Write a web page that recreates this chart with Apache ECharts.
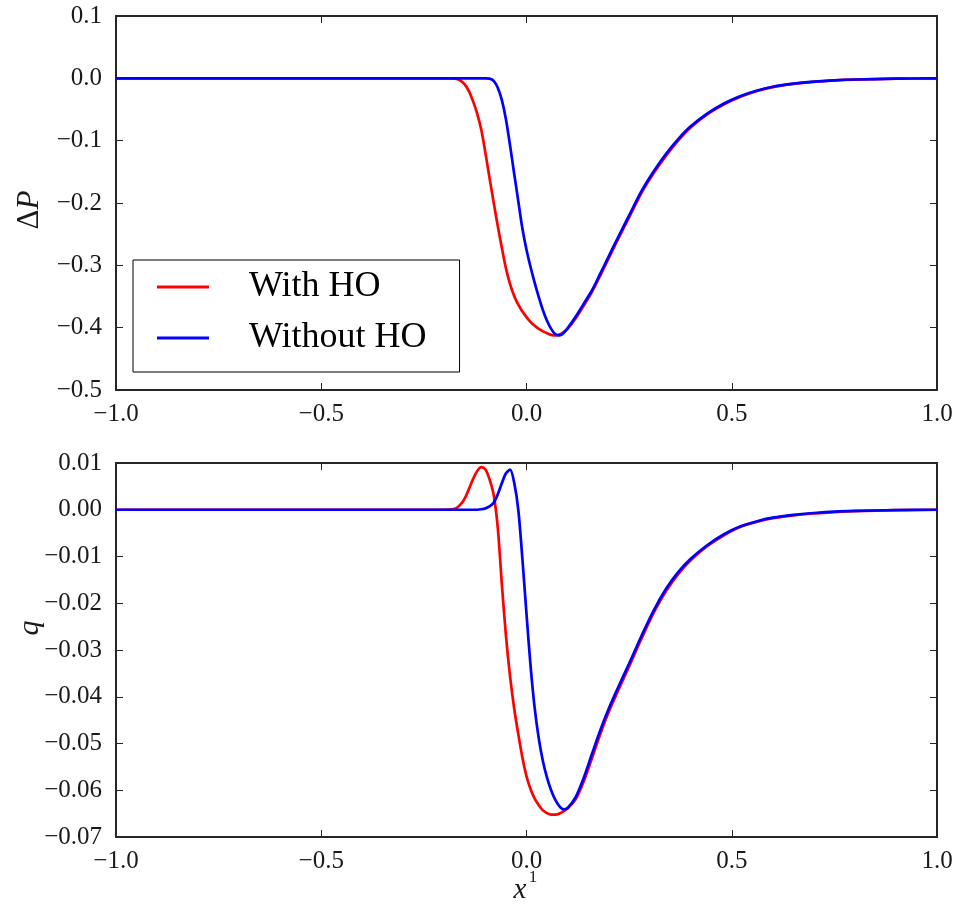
<!DOCTYPE html>
<html>
<head>
<meta charset="utf-8">
<script src="https://cdn.jsdelivr.net/npm/echarts@6/dist/echarts.min.js"></script>
<style>
html,body{margin:0;padding:0;background:#fff;}
#chart{width:957px;height:913px;}
</style>
</head>
<body>
<div id="chart"></div>
<script>
// Shared x positions
const xs = [-1.0, -0.8, -0.6, -0.4, -0.3, -0.25, -0.2,
  -0.18, -0.17, -0.16, -0.15, -0.14, -0.13, -0.12, -0.11, -0.10, -0.09, -0.08, -0.07, -0.06, -0.05, -0.04, -0.03, -0.02, -0.01,
  0.00, 0.01, 0.02, 0.03, 0.04, 0.05, 0.06, 0.07, 0.08, 0.09, 0.10,
  0.12, 0.14, 0.16, 0.18, 0.20, 0.22,
  0.25, 0.28, 0.31, 0.34, 0.37, 0.40,
  0.44, 0.48, 0.52, 0.56, 0.60,
  0.65, 0.70, 0.75, 0.80, 0.90, 1.0];

// Top panel: Delta P
const dpWithHO = [0, 0, 0, 0, 0, 0, 0,
  0, -0.001, -0.004, -0.010, -0.021, -0.037, -0.057, -0.083, -0.120, -0.160, -0.199, -0.237, -0.272, -0.305, -0.330, -0.349, -0.363, -0.374,
  -0.383, -0.391, -0.397, -0.402, -0.406, -0.409, -0.4115, -0.4125, -0.411, -0.407, -0.402,
  -0.385, -0.364, -0.342, -0.316, -0.289, -0.262,
  -0.223, -0.184, -0.152, -0.124, -0.0995, -0.079,
  -0.058, -0.042, -0.030, -0.0207, -0.014,
  -0.009, -0.0056, -0.0034, -0.002, -0.0006, 0];
const dpWithoutHO = [0, 0, 0, 0, 0, 0, 0,
  0, 0, 0, 0, 0, 0, 0, 0, 0, -0.0005, -0.004, -0.015, -0.035, -0.066, -0.108, -0.153, -0.197, -0.241,
  -0.275, -0.303, -0.328, -0.351, -0.372, -0.389, -0.402, -0.4105, -0.4125, -0.409, -0.401,
  -0.382, -0.361, -0.3395, -0.313, -0.286, -0.259,
  -0.220, -0.181, -0.149, -0.121, -0.097, -0.077,
  -0.0565, -0.0407, -0.0287, -0.0199, -0.0135,
  -0.0085, -0.0053, -0.0032, -0.0019, -0.0006, 0];

// Bottom panel: q
const qWithHO = [0, 0, 0, 0, 0, 0, 0,
  0.0001, 0.0004, 0.0012, 0.0025, 0.0045, 0.0066, 0.0083, 0.0091, 0.0086, 0.0065, 0.0032, -0.0038, -0.0160, -0.0270, -0.0357, -0.0425, -0.0480, -0.0530,
  -0.0570, -0.0598, -0.0618, -0.0632, -0.0643, -0.0649, -0.0652, -0.0652, -0.0650, -0.0645, -0.0639,
  -0.0619, -0.0580, -0.0530, -0.0479, -0.0433, -0.0393,
  -0.0335, -0.0276, -0.0220, -0.0174, -0.0137, -0.0108,
  -0.0078, -0.0055, -0.0037, -0.0026, -0.0018,
  -0.0012, -0.0008, -0.0005, -0.0003, -0.0001, 0];
const qWithoutHO = [0, 0, 0, 0, 0, 0, 0,
  0, 0, 0, 0, 0, 0, 0, 0.0001, 0.0003, 0.0007, 0.0015, 0.0033, 0.0057, 0.0078, 0.0086, 0.0058, 0.0000, -0.0105,
  -0.0223, -0.0335, -0.0425, -0.0490, -0.0538, -0.0573, -0.0600, -0.0620, -0.0634, -0.0641, -0.0638,
  -0.0614, -0.0572, -0.0521, -0.0471, -0.0426, -0.0386,
  -0.0329, -0.0270, -0.0215, -0.0169, -0.0133, -0.0105,
  -0.0076, -0.0053, -0.0036, -0.0025, -0.0017,
  -0.0011, -0.0007, -0.0004, -0.00025, -0.00008, 0];

const seriesNames = ['With HO', 'Without HO'];
const xTicks = {min: -1.0, max: 1.0, interval: 0.5};
const dpTicks = {min: -0.5, max: 0.1, interval: 0.1};
const qTicks = {min: -0.07, max: 0.01, interval: 0.01};

const FONT = 'Liberation Serif';
const AX = '#262626';

function fmt(dec) {
  return function (v) {
    if (Math.abs(v) < 1e-9) v = 0;
    return v.toFixed(dec).replace('-', '\u2212');
  };
}

function mkX(grid, pos, labels) {
  return {
    type: 'value', gridIndex: grid, position: pos,
    min: xTicks.min, max: xTicks.max, interval: xTicks.interval,
    axisLine: {show: true, onZero: false, lineStyle: {color: AX, width: 2}},
    axisTick: {show: true, inside: true, length: 7, lineStyle: {color: AX, width: 1}},
    axisLabel: {show: labels, margin: 12, fontFamily: FONT, fontSize: 25, color: '#1a1a1a', formatter: fmt(1)},
    splitLine: {show: false}
  };
}
function mkY(grid, pos, labels, t, dec) {
  return {
    type: 'value', gridIndex: grid, position: pos,
    min: t.min, max: t.max, interval: t.interval,
    axisLine: {show: true, onZero: false, lineStyle: {color: AX, width: 2}},
    axisTick: {show: true, inside: true, length: 7, lineStyle: {color: AX, width: 1}},
    axisLabel: {show: labels, margin: 14, fontFamily: FONT, fontSize: 25, color: '#1a1a1a', formatter: fmt(dec)},
    splitLine: {show: false}
  };
}
function pairs(ys) { return xs.map((x, i) => [x, ys[i]]); }
function line(name, color, xi, yi, ys) {
  return {
    name: name, type: 'line', xAxisIndex: xi, yAxisIndex: yi,
    data: pairs(ys), showSymbol: false, symbol: 'none', smooth: 0.3,
    lineStyle: {color: color, width: 2.7}, itemStyle: {color: color},
    z: color === '#0000ff' ? 3 : 2
  };
}

const chart = echarts.init(document.getElementById('chart'), null, {renderer: 'canvas'});
chart.setOption({
  animation: false,
  backgroundColor: '#ffffff',
  grid: [
    {left: 116, right: 20, top: 16, height: 374},
    {left: 116, right: 20, top: 463, height: 374}
  ],
  xAxis: [mkX(0, 'bottom', true), mkX(0, 'top', false), mkX(1, 'bottom', true), mkX(1, 'top', false)],
  yAxis: [mkY(0, 'left', true, dpTicks, 1), mkY(0, 'right', false, dpTicks, 1),
          mkY(1, 'left', true, qTicks, 2), mkY(1, 'right', false, qTicks, 2)],
  legend: {
    show: true, selectedMode: false, orient: 'vertical',
    left: 133, top: 260,
    padding: [7, 33, 14, 24], itemGap: 11,
    backgroundColor: '#ffffff', borderColor: '#000000', borderWidth: 1, borderRadius: 0,
    icon: 'rect', itemWidth: 52, itemHeight: 3,
    data: seriesNames,
    textStyle: {fontFamily: FONT, fontSize: 36, color: '#000', lineHeight: 40, padding: [0, 0, 0, 35]}
  },
  series: [
    line(seriesNames[0], '#ff0000', 0, 0, dpWithHO),
    line(seriesNames[1], '#0000ff', 0, 0, dpWithoutHO),
    line(seriesNames[0], '#ff0000', 2, 2, qWithHO),
    line(seriesNames[1], '#0000ff', 2, 2, qWithoutHO)
  ],
  graphic: [
    {type: 'text', x: 30, y: 210, rotation: Math.PI / 2,
     style: {text: '{a|\u0394}{b|P}', align: 'center', verticalAlign: 'middle',
       rich: {a: {fontFamily: FONT, fontSize: 31, fill: '#1a1a1a'},
              b: {fontFamily: FONT, fontSize: 31, fontStyle: 'italic', fill: '#1a1a1a'}}}},
    {type: 'text', x: 30, y: 628, rotation: Math.PI / 2,
     style: {text: 'q', align: 'center', verticalAlign: 'middle', fontFamily: FONT, fontSize: 30, fontStyle: 'italic', fill: '#1a1a1a'}},
    {type: 'text', x: 520, y: 890,
     style: {text: 'x', align: 'center', verticalAlign: 'middle', fontFamily: FONT, fontSize: 29, fontStyle: 'italic', fill: '#1a1a1a'}},
    {type: 'text', x: 533, y: 878,
     style: {text: '1', align: 'center', verticalAlign: 'middle', fontFamily: FONT, fontSize: 17, fill: '#1a1a1a'}}
  ]
});
</script>
</body>
</html>
